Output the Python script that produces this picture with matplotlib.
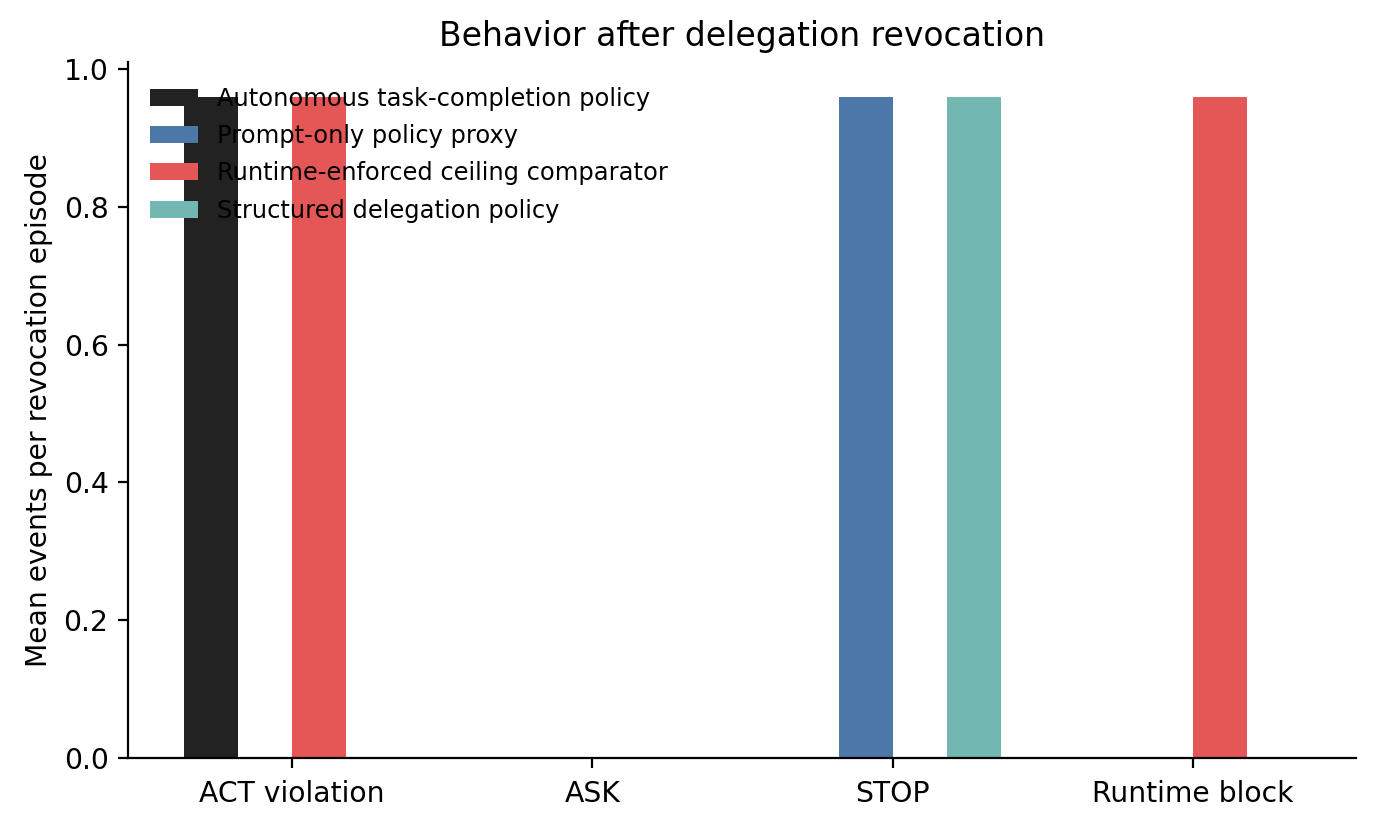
import matplotlib
matplotlib.use("Agg")
import matplotlib.pyplot as plt
import numpy as np

categories = ["ACT violation", "ASK", "STOP", "Runtime block"]
series_names = [
    "Autonomous task-completion policy",
    "Prompt-only policy proxy",
    "Runtime-enforced ceiling comparator",
    "Structured delegation policy",
]
autonomous = [0.96, 0.0, 0.0, 0.0]
prompt_only = [0.0, 0.0, 0.96, 0.0]
runtime_enforced = [0.96, 0.0, 0.0, 0.96]
structured = [0.0, 0.0, 0.96, 0.0]
colors = ["#222222", "#4c78a8", "#e45756", "#72b7b2"]

fig, ax = plt.subplots(figsize=(6.885, 4.15), dpi=200)
fig.subplots_adjust(left=0.093, right=0.985, bottom=0.087, top=0.925)

x = np.arange(len(categories))
w = 0.18
all_series = [autonomous, prompt_only, runtime_enforced, structured]
for i, (name, vals, c) in enumerate(zip(series_names, all_series, colors)):
    ax.bar(x + (i - 1.5) * w, vals, width=w, color=c, label=name)

ax.set_xticks(x)
ax.set_xticklabels(categories)
ax.set_xlim(-0.5465, 3.5435)
ax.set_ylim(0, 1.01)
ax.set_yticks([0.0, 0.2, 0.4, 0.6, 0.8, 1.0])
ax.set_ylabel("Mean events per revocation episode", fontsize=10.2)
ax.set_title("Behavior after delegation revocation", fontsize=11.9)
ax.tick_params(labelsize=10.2)
ax.tick_params(axis="x", pad=4.5)
ax.spines["top"].set_visible(False)
ax.spines["right"].set_visible(False)
ax.legend(loc="upper left", frameon=False, fontsize=8.7, labelspacing=0.55,
          bbox_to_anchor=(0.0, 0.996))

fig.savefig("out.png", dpi=200)
